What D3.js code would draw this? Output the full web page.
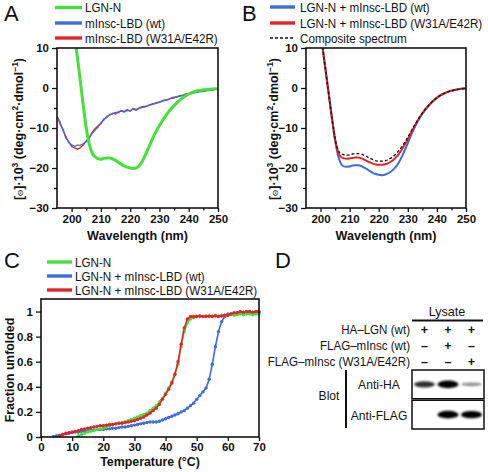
<!DOCTYPE html>
<html><head><meta charset="utf-8">
<script src="https://cdn.jsdelivr.net/npm/d3@7"></script>
<style>
body{margin:0;background:#fff}
text{font-family:"Liberation Sans",Arial,Helvetica,sans-serif;fill:#111}
</style>
</head><body>
<svg id="fig" width="488" height="472" xmlns="http://www.w3.org/2000/svg"></svg>
<script>
// ---------- DATA ----------
// Panel A: CD spectra (wavelength, nm)
const wavelengthsA = [195,196,197,198,199,200,201,202,203,204,205,206,207,208,209,210,211,212,213,214,215,216,217,218,219,220,221,222,223,224,225,226,227,228,229,230,231,232,233,234,235,236,237,238,239,240,241,242,243,244,245,246,247,248,249,250];
const lgnN_A = [null,null,null,null,null,null,13.0,7.5,1.5,-4.5,-10.0,-14.0,-16.2,-17.2,-17.7,-17.8,-17.6,-17.5,-17.5,-17.7,-18.1,-18.6,-19.1,-19.5,-19.8,-20.0,-20.1,-20.0,-19.5,-18.5,-17.0,-15.4,-13.7,-12.1,-10.7,-9.4,-8.2,-7.1,-6.1,-5.2,-4.4,-3.7,-3.0,-2.4,-1.9,-1.5,-1.2,-0.9,-0.7,-0.55,-0.45,-0.35,-0.3,-0.25,-0.2,-0.2];
const wtLBD_A = [-7.2,-8.4,-10.6,-12.0,-13.7,-14.2,-14.6,-14.3,-14.3,-13.9,-13.4,-12.3,-11.4,-10.5,-9.8,-8.7,-8.0,-7.1,-6.8,-6.3,-6.5,-5.9,-5.8,-6.0,-5.6,-5.7,-5.3,-5.6,-5.1,-4.9,-4.8,-4.5,-4.2,-4.0,-3.8,-3.6,-3.3,-3.1,-2.8,-2.6,-2.5,-2.2,-2.0,-1.9,-1.6,-1.6,-1.3,-1.2,-1.0,-0.9,-0.9,-0.7,-0.6,-0.5,-0.4,-0.3];
const mutLBD_A = [-7.0,-8.9,-10.2,-12.5,-13.4,-14.6,-15.0,-15.3,-14.9,-14.2,-13.2,-12.6,-11.1,-10.2,-9.5,-8.9,-7.7,-7.4,-6.6,-6.5,-6.1,-6.2,-5.6,-5.9,-5.4,-5.8,-5.1,-5.4,-5.0,-4.7,-4.6,-4.4,-4.1,-3.9,-3.7,-3.5,-3.2,-3.0,-2.9,-2.5,-2.3,-2.2,-1.9,-1.8,-1.5,-1.4,-1.3,-1.1,-0.9,-0.8,-0.7,-0.6,-0.6,-0.4,-0.3,-0.2];

// Panel B: CD spectra of complexes
const wavelengthsB = [200,201,202,203,204,205,206,207,208,209,210,211,212,213,214,215,216,217,218,219,220,221,222,223,224,225,226,227,228,229,230,231,232,233,234,235,236,237,238,239,240,241,242,243,244,245,246,247,248,249,250];
const complexWt_B = [14.0,8.5,3.0,-2.5,-8.0,-13.0,-16.8,-18.9,-19.6,-19.7,-19.6,-19.4,-19.3,-19.3,-19.5,-19.9,-20.3,-20.8,-21.2,-21.5,-21.7,-21.8,-21.7,-21.4,-21.0,-20.4,-19.6,-18.5,-17.1,-15.5,-13.8,-12.0,-10.4,-8.9,-7.6,-6.5,-5.5,-4.6,-3.8,-3.1,-2.5,-2.0,-1.6,-1.2,-0.9,-0.7,-0.5,-0.35,-0.25,-0.15,-0.1];
const complexMut_B = [14.0,8.5,3.0,-2.5,-8.0,-12.8,-16.0,-17.2,-17.6,-17.7,-17.6,-17.5,-17.4,-17.4,-17.6,-17.9,-18.3,-18.6,-18.9,-19.1,-19.2,-19.2,-19.1,-18.9,-18.5,-18.0,-17.3,-16.4,-15.3,-14.1,-12.8,-11.4,-10.0,-8.7,-7.4,-6.3,-5.3,-4.5,-3.7,-3.0,-2.4,-1.9,-1.5,-1.2,-0.9,-0.7,-0.5,-0.35,-0.25,-0.15,-0.1];
const composite_B = [14.0,8.5,3.0,-2.5,-8.0,-12.6,-15.5,-16.4,-16.7,-16.8,-16.7,-16.5,-16.4,-16.4,-16.5,-16.8,-17.2,-17.6,-17.9,-18.2,-18.3,-18.3,-18.2,-18.0,-17.6,-17.1,-16.4,-15.6,-14.6,-13.5,-12.3,-11.0,-9.7,-8.5,-7.3,-6.2,-5.3,-4.5,-3.7,-3.0,-2.4,-1.9,-1.5,-1.2,-0.9,-0.7,-0.5,-0.35,-0.25,-0.15,-0.1];

// Panel C: thermal melting (°C)
const temperaturesC = [4,5,6,7,8,9,10,11,12,13,14,15,16,17,18,19,20,21,22,23,24,25,26,27,28,29,30,31,32,33,34,35,36,37,38,39,40,41,42,43,44,45,46,47,48,49,50,51,52,53,54,55,56,57,58,59,60,61,62,63,64,65,66,67,68,69,70];
const lgnN_C = [null,null,null,null,null,null,null,null,0.01,0.02,0.03,0.04,0.045,0.05,0.06,0.065,0.07,0.08,0.09,0.10,0.105,0.11,0.115,0.12,0.13,0.14,0.15,0.16,0.17,0.18,0.19,0.21,0.23,0.25,0.28,0.31,0.35,0.39,0.44,0.50,0.58,0.72,0.84,0.91,0.94,0.95,0.96,0.96,0.96,0.965,0.96,0.965,0.97,0.965,0.97,0.97,0.97,0.975,0.97,0.975,0.98,0.975,0.98,0.98,0.975,0.98,0.98];
const complexWt_C = [0.005,0.01,0.015,0.02,0.025,0.03,0.035,0.04,0.04,0.045,0.05,0.05,0.055,0.055,0.06,0.06,0.06,0.065,0.065,0.07,0.07,0.075,0.08,0.08,0.085,0.09,0.095,0.10,0.105,0.11,0.115,0.12,0.12,0.12,0.125,0.135,0.145,0.155,0.165,0.175,0.185,0.20,0.21,0.23,0.25,0.27,0.30,0.33,0.36,0.39,0.46,0.58,0.72,0.84,0.92,0.96,0.98,0.98,0.985,0.99,0.99,0.99,0.99,0.995,0.99,0.995,0.99];
const complexMut_C = [null,null,0.01,0.02,0.03,0.035,0.04,0.045,0.05,0.06,0.065,0.07,0.075,0.08,0.085,0.09,0.09,0.095,0.10,0.10,0.105,0.11,0.11,0.115,0.12,0.125,0.13,0.14,0.15,0.16,0.175,0.19,0.21,0.23,0.26,0.30,0.34,0.38,0.43,0.50,0.60,0.74,0.87,0.94,0.96,0.96,0.96,0.965,0.96,0.96,0.965,0.96,0.965,0.96,0.965,0.97,0.97,0.98,0.99,0.99,1.0,0.995,1.0,1.0,0.995,1.0,1.0];

// Panel D: western blot
const lanes = ["1","2","3"];
const conditionRows = ["HA\u2013LGN (wt)","FLAG\u2013mInsc (wt)","FLAG\u2013mInsc (W31A/E42R)"];
const conditionSigns = [["+","+","+"],["\u2013","+","\u2013"],["\u2013","\u2013","+"]];
const blotRows = ["Anti-HA","Anti-FLAG"];
const bandIntensity = [[0.7,1.0,0.22],[0,1.0,0.95]];

// ---------- STYLE ----------
const GREEN = "#42e23a", BLUE = "#3b6ed8", RED = "#e3242b";
const svg = d3.select("#fig");
const defs = svg.append("defs");
defs.append("filter").attr("id","blur").attr("x","-30%").attr("y","-80%").attr("width","160%").attr("height","260%")
  .append("feGaussianBlur").attr("stdDeviation",1.1);

const fmtTick = d => d < 0 ? "\u2212" + Math.abs(d) : String(d);

// text drawn horizontally narrowed (the reference uses a condensed face)
function narrowText(x,y,str,size,f,anchor){
  return svg.append("text").attr("transform",`translate(${x},${y}) scale(${f},1)`)
    .attr("font-size",size).attr("text-anchor",anchor||"start").text(str);
}
function panelLetter(t,x,y){
  svg.append("text").attr("x",x).attr("y",y).attr("font-size",22).text(t);
}
function legend(items,x0,x1,tx,ys){
  items.forEach((it,i)=>{
    svg.append("line").attr("x1",x0).attr("x2",x1).attr("y1",ys[i]).attr("y2",ys[i])
      .attr("stroke",it.color).attr("stroke-width",it.dash?1.4:3.4)
      .attr("stroke-dasharray",it.dash?"3,2":null);
    narrowText(tx,ys[i]+4.8,it.label,13.4,0.87);
  });
}
function styleAxis(g){
  g.select(".domain").remove();
  g.selectAll(".tick line").attr("stroke","#111").attr("stroke-width",1.3);
  g.selectAll(".tick text").attr("font-size",11.5).attr("font-weight","bold").attr("fill","#111")
   .style("font-family",'"Liberation Sans",Arial,sans-serif');
}
function cdYTitle(x,yc){
  const t = svg.append("text").attr("transform",`translate(${x},${yc}) rotate(-90)`)
    .attr("text-anchor","middle").attr("font-size",12.5).attr("font-weight","bold");
  t.append("tspan").text("[");
  t.append("tspan").attr("font-size",8).attr("font-weight","normal").text("\u0398");
  t.append("tspan").text("]\u00b710");
  t.append("tspan").attr("font-size",8.5).attr("baseline-shift","super").text("3");
  t.append("tspan").text(" (deg\u00b7cm");
  t.append("tspan").attr("font-size",8.5).attr("baseline-shift","super").text("2");
  t.append("tspan").text("\u00b7dmol");
  t.append("tspan").attr("font-size",8.5).attr("baseline-shift","super").text("\u22121");
  t.append("tspan").text(")");
}

function cdPanel(id,left,right,top,bottom){
  const x = d3.scaleLinear().domain([195,250]).range([left,right]);
  const y = d3.scaleLinear().domain([-30,10]).range([bottom,top]);
  defs.append("clipPath").attr("id","clip"+id).append("rect")
    .attr("x",left).attr("y",top).attr("width",right-left).attr("height",bottom-top);
  const gx = svg.append("g").attr("transform",`translate(0,${bottom})`)
    .call(d3.axisBottom(x).tickValues([200,210,220,230,240,250]).tickSize(4).tickPadding(3).tickFormat(fmtTick));
  styleAxis(gx);
  const gxm = svg.append("g").attr("transform",`translate(0,${bottom})`)
    .call(d3.axisBottom(x).tickValues([205,215,225,235,245]).tickSize(2.5).tickFormat(""));
  styleAxis(gxm);
  const gy = svg.append("g").attr("transform",`translate(${left},0)`)
    .call(d3.axisLeft(y).tickValues([-30,-20,-10,0,10]).tickSize(5).tickPadding(3).tickFormat(fmtTick));
  styleAxis(gy);
  const gym = svg.append("g").attr("transform",`translate(${left},0)`)
    .call(d3.axisLeft(y).tickValues([-25,-15,-5,5]).tickSize(3).tickFormat(""));
  styleAxis(gym);
  svg.append("text").attr("x",(left+right)/2).attr("y",bottom+32).attr("text-anchor","middle")
    .attr("font-size",12.6).attr("font-weight","bold").text("Wavelength (nm)");
  const plot = svg.append("g").attr("clip-path",`url(#clip${id})`);
  return {x,y,plot,frame:()=>svg.append("rect").attr("x",left).attr("y",top).attr("width",right-left)
    .attr("height",bottom-top).attr("fill","none").attr("stroke","#111").attr("stroke-width",1.6)};
}
function drawLine(p,xs,ys,color,w,dash,curve){
  const data = xs.map((d,i)=>[d,ys[i]]);
  p.plot.append("path").datum(data)
    .attr("d",d3.line().defined(d=>d[1]!==null).x(d=>p.x(d[0])).y(d=>p.y(d[1])).curve(curve||d3.curveLinear))
    .attr("fill","none").attr("stroke",color).attr("stroke-width",w).attr("stroke-dasharray",dash||null)
    .attr("stroke-linejoin","round");
}

// ---------- PANEL A ----------
panelLetter("A",4,21);
legend([{label:"LGN-N",color:GREEN},{label:"mInsc-LBD (wt)",color:BLUE},{label:"mInsc-LBD (W31A/E42R)",color:RED}],55,82,85,[7.5,23,38]);
const pA = cdPanel("A",57,218,48,208);
drawLine(pA,wavelengthsA,mutLBD_A,RED,1.4);
drawLine(pA,wavelengthsA,wtLBD_A,BLUE,1.3);
drawLine(pA,wavelengthsA,lgnN_A,GREEN,3,null,d3.curveMonotoneX);
pA.frame();
cdYTitle(23,129);

// ---------- PANEL B ----------
panelLetter("B",242,21);
legend([{label:"LGN-N + mInsc-LBD (wt)",color:BLUE},{label:"LGN-N + mInsc-LBD (W31A/E42R)",color:RED},{label:"Composite spectrum",color:"#111",dash:true}],270,295,300,[7,23,38]);
const pB = cdPanel("B",306,466,48,208);
drawLine(pB,wavelengthsB,complexWt_B,BLUE,2,null,d3.curveMonotoneX);
drawLine(pB,wavelengthsB,complexMut_B,RED,2,null,d3.curveMonotoneX);
drawLine(pB,wavelengthsB,composite_B,"#111",1.3,"3,2",d3.curveMonotoneX);
pB.frame();
cdYTitle(278,129);

// ---------- PANEL C ----------
panelLetter("C",4,268);
legend([{label:"LGN-N",color:GREEN},{label:"LGN-N + mInsc-LBD (wt)",color:BLUE},{label:"LGN-N + mInsc-LBD (W31A/E42R)",color:RED}],47,72,75,[262,276,290]);
{
  const left=41,right=259,top=299,bottom=437;
  const x = d3.scaleLinear().domain([0,70]).range([left,right]);
  const y = d3.scaleLinear().domain([0,1.1]).range([bottom,top]);
  const gx = svg.append("g").attr("transform",`translate(0,${bottom})`)
    .call(d3.axisBottom(x).tickValues([0,10,20,30,40,50,60,70]).tickSize(4).tickPadding(2));
  styleAxis(gx);
  const gy = svg.append("g").attr("transform",`translate(${left},0)`)
    .call(d3.axisLeft(y).tickValues([0,0.2,0.4,0.6,0.8,1]).tickSize(5).tickPadding(3).tickFormat(d=>String(d)));
  styleAxis(gy);
  svg.append("text").attr("x",(left+right)/2).attr("y",466).attr("text-anchor","middle")
    .attr("font-size",12.4).attr("font-weight","bold").text("Temperature (\u00b0C)");
  svg.append("text").attr("transform",`translate(14,${(top+bottom)/2+2}) rotate(-90)`).attr("text-anchor","middle")
    .attr("font-size",12.4).attr("font-weight","bold").text("Fraction unfolded");
  const series = [[complexWt_C,BLUE],[lgnN_C,GREEN],[complexMut_C,RED]];
  series.forEach(([vals,color])=>{
    const data = temperaturesC.map((t,i)=>[t,vals[i]]).filter(d=>d[1]!==null);
    svg.append("path").datum(data).attr("d",d3.line().x(d=>x(d[0])).y(d=>y(d[1])))
      .attr("fill","none").attr("stroke",color).attr("stroke-width",1.6);
    svg.append("g").selectAll("circle").data(data).join("circle")
      .attr("cx",d=>x(d[0])).attr("cy",d=>y(d[1])).attr("r",1.7).attr("fill",color);
  });
  svg.append("rect").attr("x",left).attr("y",top).attr("width",right-left).attr("height",bottom-top)
    .attr("fill","none").attr("stroke","#111").attr("stroke-width",1.6);
}

// ---------- PANEL D ----------
panelLetter("D",275,268);
{
  const lx = d3.scaleBand().domain(lanes).range([412,484]).padding(0.06);
  const rowY = d3.scaleBand().domain(conditionRows).range([321,370]);
  svg.append("text").attr("x",447).attr("y",316).attr("text-anchor","middle").attr("font-size",12.6).text("Lysate");
  svg.append("line").attr("x1",412).attr("x2",483).attr("y1",320.5).attr("y2",320.5).attr("stroke","#111").attr("stroke-width",2);
  conditionRows.forEach((r,i)=>{
    const yb = rowY(r)+rowY.bandwidth()/2+4.5;
    narrowText(410,yb,r,12.6,0.92,"end");
    lanes.forEach((l,j)=>{
      svg.append("text").attr("x",lx(l)+lx.bandwidth()/2).attr("y",yb).attr("text-anchor","middle")
        .attr("font-size",12.5).attr("font-weight","bold").text(conditionSigns[i][j]);
    });
  });
  const blotY = d3.scaleBand().domain(blotRows).range([370,429]).paddingInner(0.05);
  blotRows.forEach((b,i)=>{
    const y0 = blotY(b), h = blotY.bandwidth();
    svg.append("rect").attr("x",412).attr("y",y0).attr("width",72).attr("height",h)
      .attr("fill","#fff").attr("stroke","#111").attr("stroke-width",1.5);
    lanes.forEach((l,j)=>{
      const v = bandIntensity[i][j];
      if(v<=0) return;
      svg.append("ellipse").attr("cx",lx(l)+lx.bandwidth()/2).attr("cy",y0+h/2)
        .attr("rx",lx.bandwidth()/2-0.5).attr("ry",1.2+2.6*v)
        .attr("fill","#000").attr("opacity",Math.min(1,0.25+0.8*v)).attr("filter","url(#blur)");
    });
    narrowText(379,y0+h/2+5,b,13.2,0.92,"middle");
  });
  svg.append("line").attr("x1",346).attr("x2",346).attr("y1",370).attr("y2",428).attr("stroke","#111").attr("stroke-width",2);
  narrowText(329,400,"Blot",13.2,0.92,"middle");
}
</script>
</body></html>
